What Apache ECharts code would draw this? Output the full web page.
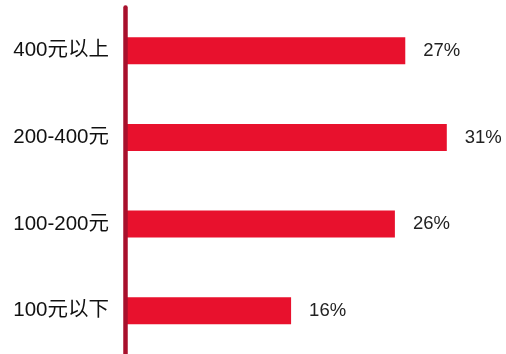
<!DOCTYPE html>
<html>
<head>
<meta charset="utf-8">
<script src="https://cdn.jsdelivr.net/npm/echarts@6/dist/echarts.min.js"></script>
<style>
  html, body { margin: 0; padding: 0; background: #fff; }
  #chart { width: 506px; height: 354px; }
</style>
</head>
<body>
<div id="chart"></div>
<script>
// Price bands, listed top to bottom
const categories = ['400元以上', '200-400元', '100-200元', '100元以下'];
// Share of respondents in each band (%)
const shares = [27, 31, 26, 16];

const chart = echarts.init(document.getElementById('chart'), null, { renderer: 'canvas' });

chart.setOption({
  animation: false,
  backgroundColor: '#ffffff',
  grid: { left: 125, right: 7.3, top: 7.5, height: 350, containLabel: false },
  xAxis: {
    type: 'value',
    min: 0,
    max: 36,
    show: false
  },
  yAxis: {
    type: 'category',
    data: categories,
    inverse: true,
    z: 5,
    axisLine: { show: true, lineStyle: { color: '#a8102c', width: 4.5 } },
    axisTick: { show: false },
    axisLabel: {
      margin: 16,
      fontSize: 20.5,
      color: '#111111',
      fontFamily: '"Liberation Sans", "Noto Sans CJK SC", sans-serif'
    }
  },
  series: [{
    type: 'bar',
    data: shares,
    barWidth: 27,
    itemStyle: { color: '#e8112d' },
    label: {
      show: true,
      position: 'right',
      distance: 18,
      formatter: '{c}%',
      fontSize: 18.5,
      color: '#222222',
      fontFamily: '"Liberation Sans", sans-serif'
    }
  }]
});
</script>
</body>
</html>
